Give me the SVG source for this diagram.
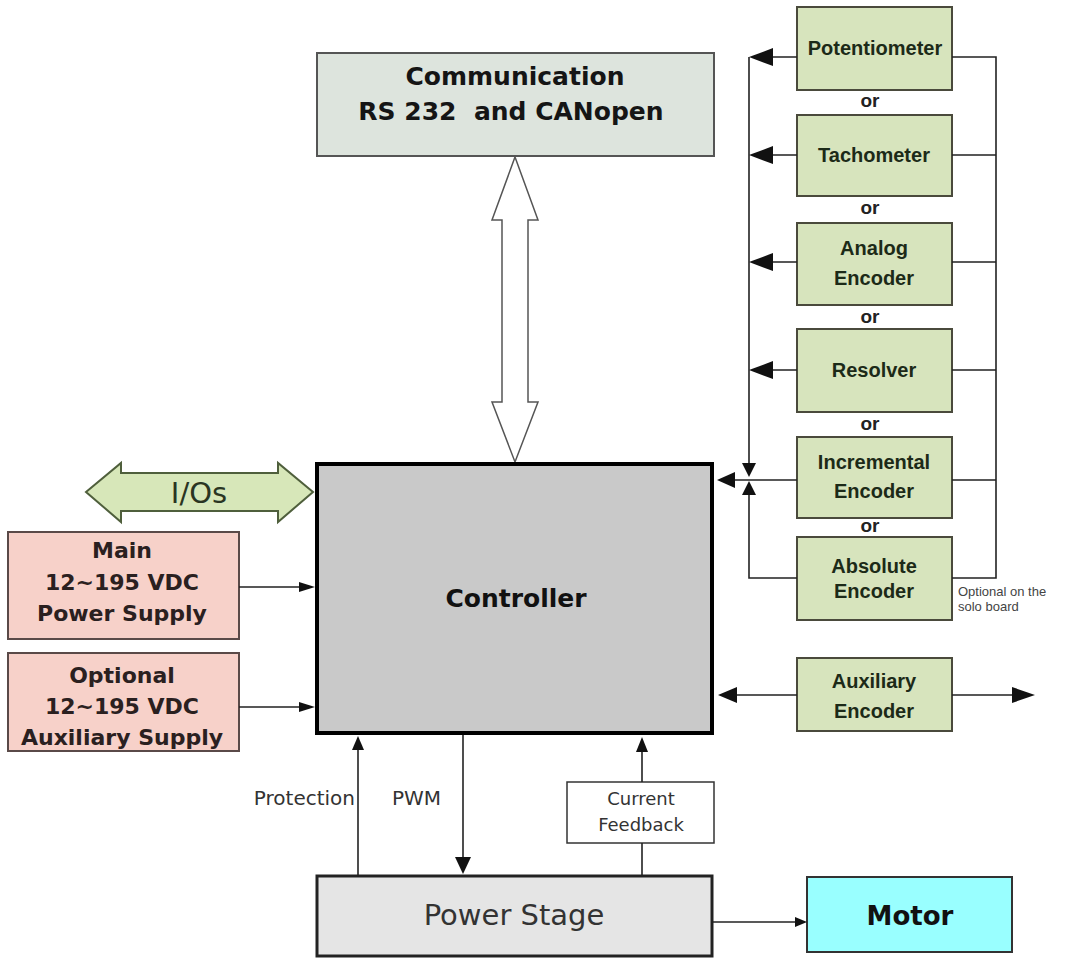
<svg xmlns="http://www.w3.org/2000/svg" width="1070" height="958" viewBox="0 0 1070 958">
<style>
.g{fill:#d7e4bd;stroke:#4a4a3c;stroke-width:2}
.gt{font-family:"Liberation Sans",Arial,sans-serif;font-weight:bold;font-size:20px;fill:#1c2a18;text-anchor:middle}
.or{font-family:"Liberation Sans",Arial,sans-serif;font-weight:bold;font-size:19px;fill:#222;text-anchor:middle}
.pk{fill:#f7d1c9;stroke:#5a4a48;stroke-width:2}
.pt{font-family:"DejaVu Sans",Verdana,sans-serif;font-weight:bold;font-size:22px;fill:#2a2020;text-anchor:middle}
.ln{stroke:#222;stroke-width:1.6;fill:none}
.ah{fill:#111}
.lb{font-family:"DejaVu Sans",Verdana,sans-serif;font-size:20px;fill:#333}
.nt{font-family:"Liberation Sans",Arial,sans-serif;font-size:13px;fill:#444}
</style>
<rect width="1070" height="958" fill="#fff"/>

<g id="communication">
<rect x="317" y="53" width="397" height="103" fill="#dde4dd" stroke="#555" stroke-width="2"/>
<text x="515" y="85" font-family="DejaVu Sans,Verdana,sans-serif" font-weight="bold" font-size="25" fill="#151515" text-anchor="middle">Communication</text>
<text x="511" y="120" font-family="DejaVu Sans,Verdana,sans-serif" font-weight="bold" font-size="25" fill="#151515" text-anchor="middle" style="white-space:pre">RS 232  and CANopen</text>
</g>

<g id="comm-bus">
<polygon points="515,157 538,220 528,220 528,402 538,402 515,462 492,402 502,402 502,220 492,220" fill="#fff" stroke="#555" stroke-width="1.5"/>
</g>

<g id="controller">
<rect x="317" y="464" width="395" height="269" fill="#c9c9c9" stroke="#000" stroke-width="4"/>
<text x="516" y="607" font-family="DejaVu Sans,Verdana,sans-serif" font-weight="bold" font-size="25" fill="#111" text-anchor="middle">Controller</text>
</g>

<g id="ios">
<polygon points="86,492 121,463 121,473 278,473 278,463 313,492 278,522 278,511 121,511 121,522" fill="#d7e7b9" stroke="#4f5f3c" stroke-width="2"/>
<text x="199" y="503" font-family="DejaVu Sans,Verdana,sans-serif" font-size="29" fill="#2a3522" text-anchor="middle">I/Os</text>
</g>

<g id="main-supply">
<rect x="8" y="532" width="231" height="107" class="pk"/>
<text x="122" y="558" class="pt">Main</text>
<text x="122" y="590" class="pt">12~195 VDC</text>
<text x="122" y="621" class="pt">Power Supply</text>
</g>

<g id="aux-supply">
<rect x="8" y="653" width="231" height="98" class="pk"/>
<text x="122" y="683" class="pt">Optional</text>
<text x="122" y="714" class="pt">12~195 VDC</text>
<text x="122" y="745" class="pt">Auxiliary Supply</text>
</g>

<g id="potentiometer"><rect x="797" y="7" width="155" height="83" class="g"/><text x="875" y="55" class="gt">Potentiometer</text></g>
<g id="tachometer"><rect x="797" y="115" width="155" height="81" class="g"/><text x="874" y="162" class="gt">Tachometer</text></g>
<g id="analog-encoder"><rect x="797" y="223" width="155" height="82" class="g"/><text x="874" y="255" class="gt">Analog</text><text x="874" y="285" class="gt">Encoder</text></g>
<g id="resolver"><rect x="797" y="329" width="155" height="83" class="g"/><text x="874" y="377" class="gt">Resolver</text></g>
<g id="incremental-encoder"><rect x="797" y="437" width="155" height="81" class="g"/><text x="874" y="469" class="gt">Incremental</text><text x="874" y="498" class="gt">Encoder</text></g>
<g id="absolute-encoder"><rect x="797" y="537" width="155" height="83" class="g"/><text x="874" y="573" class="gt">Absolute</text><text x="874" y="598" class="gt">Encoder</text></g>
<g id="auxiliary-encoder"><rect x="797" y="658" width="155" height="73" class="g"/><text x="874" y="688" class="gt">Auxiliary</text><text x="874" y="718" class="gt">Encoder</text></g>

<g id="or-labels">
<text x="870" y="107" class="or">or</text>
<text x="870" y="214" class="or">or</text>
<text x="870" y="323" class="or">or</text>
<text x="870" y="430" class="or">or</text>
<text x="870" y="532" class="or">or</text>
</g>

<g id="note">
<text x="958" y="596" class="nt">Optional on the</text>
<text x="958" y="611" class="nt">solo board</text>
</g>

<g id="power-stage">
<rect x="317" y="876" width="395" height="80" fill="#e5e5e5" stroke="#222" stroke-width="3"/>
<text x="514" y="925" font-family="DejaVu Sans,Verdana,sans-serif" font-size="29" fill="#333" text-anchor="middle">Power Stage</text>
</g>

<g id="current-feedback">
<rect x="567" y="782" width="147" height="61" fill="#fff" stroke="#333" stroke-width="1.5"/>
<text x="641" y="805" class="lb" text-anchor="middle" style="font-size:18px">Current</text>
<text x="641" y="831" class="lb" text-anchor="middle" style="font-size:18px">Feedback</text>
</g>

<g id="motor">
<rect x="807" y="877" width="205" height="75" fill="#99ffff" stroke="#333" stroke-width="2"/>
<text x="910" y="925" font-family="DejaVu Sans,Verdana,sans-serif" font-weight="bold" font-size="26" fill="#111" text-anchor="middle">Motor</text>
</g>

<g id="connectors">
<path class="ln" d="M749,57 V463 M749,495 V578 H797"/>
<path class="ln" d="M773,57 H797 M773,155 H797 M773,262 H797 M773,370 H797"/>
<polygon class="ah" points="749,57 773,48 773,66"/>
<polygon class="ah" points="749,155 773,146 773,164"/>
<polygon class="ah" points="749,262 773,253 773,271"/>
<polygon class="ah" points="749,370 773,361 773,379"/>
<polygon class="ah" points="742,463 756,463 749,477"/>
<polygon class="ah" points="742,495 756,495 749,481"/>
<path class="ln" d="M952,57 H996 V578 H952 M952,155 H996 M952,262 H996 M952,370 H996 M952,480 H996"/>
<path class="ln" d="M735,480 H797"/>
<polygon class="ah" points="717,480 735,472 735,488"/>
<path class="ln" d="M737,695 H797 M952,695 H1012"/>
<polygon class="ah" points="718,695 737,687 737,703"/>
<polygon class="ah" points="1035,695 1012,687 1012,703"/>
<path class="ln" d="M239,587 H300 M239,707 H300"/>
<polygon class="ah" points="315,587 299,582 299,592"/>
<polygon class="ah" points="315,707 299,702 299,712"/>
<path class="ln" d="M358,875 V750"/>
<polygon class="ah" points="352,750 364,750 358,736"/>
<path class="ln" d="M463,735 V858"/>
<polygon class="ah" points="455,857 471,857 463,874"/>
<path class="ln" d="M642,875 V843 M642,782 V752"/>
<polygon class="ah" points="636,752 648,752 642,737"/>
<path class="ln" d="M713,922 H796"/>
<polygon class="ah" points="807,922 795,917 795,927"/>
</g>

<g id="labels">
<text x="355" y="805" class="lb" text-anchor="end">Protection</text>
<text x="392" y="805" class="lb">PWM</text>
</g>
</svg>
